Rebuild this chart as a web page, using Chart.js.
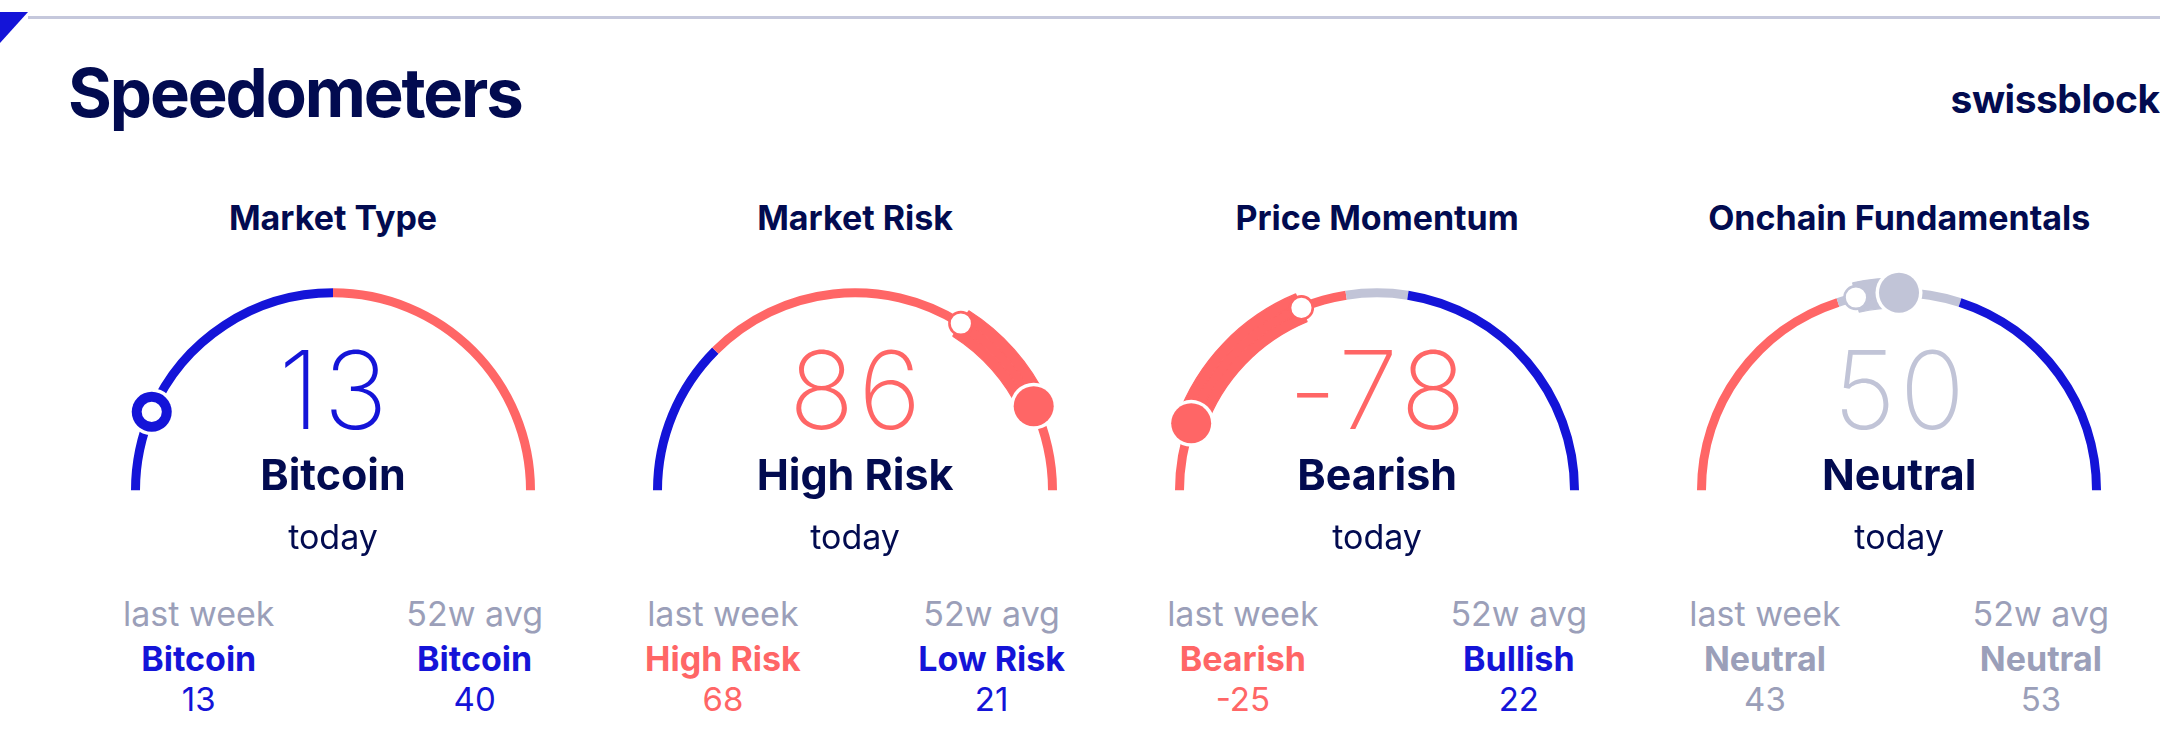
<!DOCTYPE html>
<html>
<head>
<meta charset="utf-8">
<script src="https://cdn.jsdelivr.net/npm/chart.js@4.4.1/dist/chart.umd.min.js"></script>
<style>
  html, body { margin: 0; padding: 0; background: #fff; }
  body {
    width: 2160px; height: 756px; position: relative; overflow: hidden;
    font-family: Inter, "Noto Sans", sans-serif; color: #020b50;
  }
  .rule { position: absolute; left: 28px; top: 16px; width: 2132px; height: 2.5px; background: #c5c8dc; }
  .corner {
    position: absolute; left: 0; top: 12px; width: 28px; height: 31px; background: #1414d8;
    clip-path: polygon(0 0, 100% 0, 0 100%);
  }
  .txt { position: absolute; white-space: nowrap; line-height: 1; }
  .gauge { position: absolute; width: 460px; height: 250px; }
</style>
</head>
<body>
<div class="rule"></div>
<div class="corner"></div>

<script>
const gaugeTitles = ["Market Type", "Market Risk", "Price Momentum", "Onchain Fundamentals"];
// zone boundaries along each dial, first and last are the dial's min / max
const zoneEdges = [
  [0, 50, 100],
  [0, 25, 100],
  [-100, -10, 10, 100],
  [0, 40, 60, 100],
];
const todayValues = [13, 86, -78, 50];
const todayLabels = ["Bitcoin", "High Risk", "Bearish", "Neutral"];
const lastWeekValues = [13, 68, -25, 43];
const lastWeekLabels = ["Bitcoin", "High Risk", "Bearish", "Neutral"];
const avgValues = [40, 21, 22, 53];
const avgLabels = ["Bitcoin", "Low Risk", "Bullish", "Neutral"];

// styling
const BLUE = "#1414d8";
const CORAL = "#ff6666";
const GREY = "#c1c4d7";
const GREY_TEXT = "#9b9fb9";
const NAVY = "#020b50";
const zoneColors = [
  [BLUE, CORAL],
  [BLUE, CORAL],
  [CORAL, GREY, BLUE],
  [CORAL, GREY, BLUE],
];

const GAUGE_X0 = 333;
const GAUGE_DX = 522.07;
const GAUGE_CY = 490;
const R_OUT = 212.5;
const R_IN = 182.5;
const CANVAS_W = 460;
const CANVAS_H = 250;
const COL_EDGE = 210;

const zoneOf = (g, v) => {
  const edges = zoneEdges[g];
  for (let i = 0; i < edges.length - 1; i++) {
    if (v <= edges[i + 1]) return i;
  }
  return edges.length - 2;
};

const textColor = (g, v) => {
  const c = zoneColors[g][zoneOf(g, v)];
  return c === GREY ? GREY_TEXT : c;
};

// create a text node and measure its width and baseline offset
const makeText = (str, size, weight, color, spacing) => {
  const el = document.createElement("div");
  el.className = "txt";
  el.textContent = str;
  el.style.fontSize = size + "px";
  el.style.fontWeight = weight;
  el.style.color = color;
  if (spacing) el.style.letterSpacing = spacing + "px";
  document.body.appendChild(el);
  const probe = document.createElement("span");
  probe.style.cssText = "display:inline-block;width:0;height:0;vertical-align:baseline;";
  el.appendChild(probe);
  return { el, w: el.getBoundingClientRect().width - (spacing || 0), off: probe.offsetTop };
};

const putText = (t, left, baseline) => {
  t.el.style.left = left + "px";
  t.el.style.top = baseline - t.off + "px";
};

const addText = (str, x, baseline, size, weight, color, align, spacing) => {
  const t = makeText(str, size, weight, color, spacing);
  const left = align === "center" ? x - t.w / 2 : align === "right" ? x - t.w : x;
  putText(t, left, baseline);
};

// stat column: texts centred inside a box that hugs one edge
const addColumn = (items, edgeX, side) => {
  const made = items.map((it) => ({ t: makeText(it.str, it.size, it.weight, it.color), base: it.base }));
  const colW = Math.max(...made.map((m) => m.t.w));
  const mid = side === "left" ? edgeX + colW / 2 : edgeX - colW / 2;
  made.forEach((m) => putText(m.t, mid - m.t.w / 2, m.base));
};

// split a dial into slices: zone pieces plus the last-week -> today band
const buildSegments = (g) => {
  const lo = Math.min(todayValues[g], lastWeekValues[g]);
  const hi = Math.max(todayValues[g], lastWeekValues[g]);
  const pts = [...zoneEdges[g], lo, hi].sort((a, b) => a - b);
  const segs = [];
  for (let i = 0; i < pts.length - 1; i++) {
    const a = pts[i];
    const b = pts[i + 1];
    segs.push({ len: b - a, band: a >= lo && b <= hi, zone: zoneOf(g, (a + b) / 2) });
  }
  return segs;
};

const markerPlugin = {
  id: "markers",
  afterDatasetsDraw(chart, args, opts) {
    const g = opts.gauge;
    const segs = opts.segs;
    const meta = chart.getDatasetMeta(1);
    const bandIdx = segs.map((s, i) => (s.band ? i : -1)).filter((i) => i >= 0);
    const first = meta.data[bandIdx[0]];
    const last = meta.data[bandIdx[bandIdx.length - 1]];
    const { x, y, innerRadius, outerRadius, startAngle } = first.getProps(
      ["x", "y", "innerRadius", "outerRadius", "startAngle"], true);
    const { endAngle } = last.getProps(["endAngle"], true);
    const r = (innerRadius + outerRadius) / 2;
    const todayFirst = todayValues[g] <= lastWeekValues[g];
    const aToday = todayFirst ? startAngle : endAngle;
    const aLast = todayFirst ? endAngle : startAngle;
    const ctx = chart.ctx;

    const tx = x + r * Math.cos(aToday);
    const ty = y + r * Math.sin(aToday);
    ctx.save();
    ctx.fillStyle = "#fff";
    ctx.beginPath();
    ctx.arc(tx, ty, 23.5, 0, Math.PI * 2);
    ctx.fill();
    ctx.fillStyle = zoneColors[g][zoneOf(g, todayValues[g])];
    ctx.beginPath();
    ctx.arc(tx, ty, 20, 0, Math.PI * 2);
    ctx.fill();

    const lx = x + r * Math.cos(aLast);
    const ly = y + r * Math.sin(aLast);
    ctx.fillStyle = "#fff";
    ctx.strokeStyle = zoneColors[g][zoneOf(g, lastWeekValues[g])];
    ctx.lineWidth = 2.6;
    ctx.beginPath();
    ctx.arc(lx, ly, 11.4, 0, Math.PI * 2);
    ctx.fill();
    ctx.stroke();
    ctx.restore();
  },
};

const buildGauge = (g) => {
  const cx = GAUGE_X0 + GAUGE_DX * g;
  const segs = buildSegments(g);
  const bandColor = zoneColors[g][zoneOf(g, todayValues[g])];
  const data = segs.map((s) => s.len);
  const bandOnly = segs.map((s) => (s.band ? bandColor : "rgba(0,0,0,0)"));
  const thin = segs.map((s) => (s.band ? bandColor : zoneColors[g][s.zone]));
  const borders = segs.map((s) => (s.band && s.len > 0 ? 1.2 : 0));

  const box = document.createElement("div");
  box.className = "gauge";
  box.style.left = cx - CANVAS_W / 2 + "px";
  // doughnut centre sits at chart middle + R/2 for a top half dial
  box.style.top = GAUGE_CY - (CANVAS_H / 2 + R_OUT / 2) + "px";
  const canvas = document.createElement("canvas");
  canvas.width = CANVAS_W;
  canvas.height = CANVAS_H;
  box.appendChild(canvas);
  document.body.appendChild(box);

  new Chart(canvas, {
    type: "doughnut",
    data: {
      labels: segs.map((s, i) => "part " + i),
      datasets: [
        { data, backgroundColor: bandOnly, borderColor: bandColor, borderWidth: borders, weight: 10.5 },
        { data, backgroundColor: thin, borderColor: bandColor, borderWidth: borders, weight: 9 },
        { data, backgroundColor: bandOnly, borderColor: bandColor, borderWidth: borders, weight: 10.5 },
      ],
    },
    options: {
      responsive: false,
      animation: false,
      events: [],
      rotation: -90,
      circumference: 180,
      radius: R_OUT,
      cutout: (R_IN / R_OUT) * 100 + "%",
      layout: { padding: 0 },
      plugins: {
        legend: { display: false },
        tooltip: { enabled: false },
        markers: { gauge: g, segs },
      },
    },
    plugins: [markerPlugin],
  });

  const bigColor = zoneColors[g][zoneOf(g, todayValues[g])];
  addText(gaugeTitles[g], cx, 230, 34, 700, NAVY, "center");
  addText(String(todayValues[g]), cx, 429, 108, 200, bigColor, "center", 4);
  addText(todayLabels[g], cx, 490, 43, 700, NAVY, "center");
  addText("today", cx, 549, 34, 400, NAVY, "center");

  const lwColor = textColor(g, lastWeekValues[g]);
  addColumn([
    { str: "last week", size: 34, weight: 400, color: GREY_TEXT, base: 626 },
    { str: lastWeekLabels[g], size: 34, weight: 700, color: lwColor, base: 671 },
    { str: String(lastWeekValues[g]), size: 33, weight: 400, color: lwColor, base: 711 },
  ], cx - COL_EDGE, "left");

  const avColor = textColor(g, avgValues[g]);
  addColumn([
    { str: "52w avg", size: 34, weight: 400, color: GREY_TEXT, base: 626 },
    { str: avgLabels[g], size: 34, weight: 700, color: avColor, base: 671 },
    { str: String(avgValues[g]), size: 33, weight: 400, color: avColor, base: 711 },
  ], cx + COL_EDGE, "right");
};

addText("Speedometers", 68, 117, 67, 700, NAVY, "left", -2.1);
addText("swissblock", 2160, 113, 39, 700, NAVY, "right", -0.5);

gaugeTitles.forEach((t, g) => buildGauge(g));
</script>
</body>
</html>
